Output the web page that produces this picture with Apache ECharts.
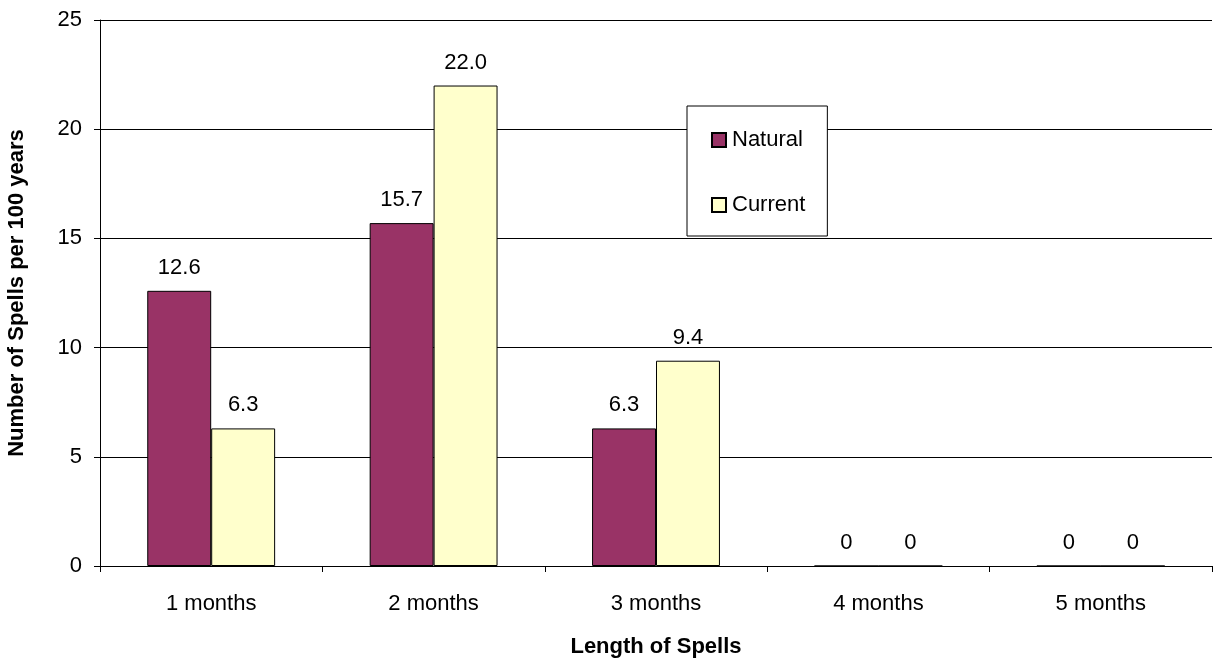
<!DOCTYPE html>
<html><head><meta charset="utf-8">
<script src="https://cdn.jsdelivr.net/npm/echarts@6/dist/echarts.min.js"></script>
<style>html,body{margin:0;padding:0;background:#fff}#c{width:1214px;height:660px}</style>
</head><body><div id="c"></div>
<script>
const categories = ['1 months','2 months','3 months','4 months','5 months'];
const naturalValues = [12.6, 15.7, 6.3, 0, 0];
const currentValues = [6.3, 22.0, 9.4, 0, 0];
const naturalLabels = ['12.6','15.7','6.3','0','0'];
const currentLabels = ['6.3','22.0','9.4','0','0'];

const chart = echarts.init(document.getElementById('c'));
const font = 'Arial, "Liberation Sans", sans-serif';
const FS = 22;
function mkSeries(name, data, labels, color){
  return {
    name, type:'bar', data, barGap:'0%', barCategoryGap:'42.5%',
    itemStyle:{color, borderColor:'#000', borderWidth:1},
    label:{show:true, position:'top', distance:12, color:'#000', fontSize:FS, fontFamily:font,
      formatter:p=>labels[p.dataIndex]},
    emphasis:{disabled:true}, animation:false
  };
}
chart.setOption({
  animation:false,
  grid:{left:100, right:2, top:20, bottom:94, containLabel:false, outerBoundsMode:'none'},
  legend:{
    orient:'vertical', left:687, top:106,
    data:['Natural','Current'],
    backgroundColor:'#fff', borderColor:'#000', borderWidth:1,
    padding:[23,22,20,24], itemGap:43, itemWidth:14, itemHeight:14,
    icon:'rect',
    textStyle:{fontSize:FS, fontFamily:font, color:'#000', padding:[0,0,0,1]}
  },
  xAxis:{
    type:'category', data:categories,
    name:'Length of Spells', nameLocation:'middle', nameGap:70,
    nameTextStyle:{fontSize:FS, fontWeight:'bold', fontFamily:font, color:'#000'},
    axisLine:{lineStyle:{color:'#000'}},
    axisTick:{show:true, length:6, lineStyle:{color:'#000'}},
    axisLabel:{fontSize:FS, fontFamily:font, color:'#000', margin:27}
  },
  yAxis:{
    type:'value', min:0, max:25, interval:5,
    name:'Number of Spells per 100 years', nameLocation:'middle', nameGap:72,
    nameTextStyle:{fontSize:FS, fontWeight:'bold', fontFamily:font, color:'#000'},
    axisLine:{show:true, lineStyle:{color:'#000'}},
    axisTick:{show:true, length:6, lineStyle:{color:'#000'}},
    axisLabel:{fontSize:FS, fontFamily:font, color:'#000', margin:18},
    splitLine:{show:true, lineStyle:{color:'#000', width:1}}
  },
  series:[
    mkSeries('Natural', naturalValues, naturalLabels, '#993366'),
    mkSeries('Current', currentValues, currentLabels, '#FFFFCC')
  ]
});
</script></body></html>
